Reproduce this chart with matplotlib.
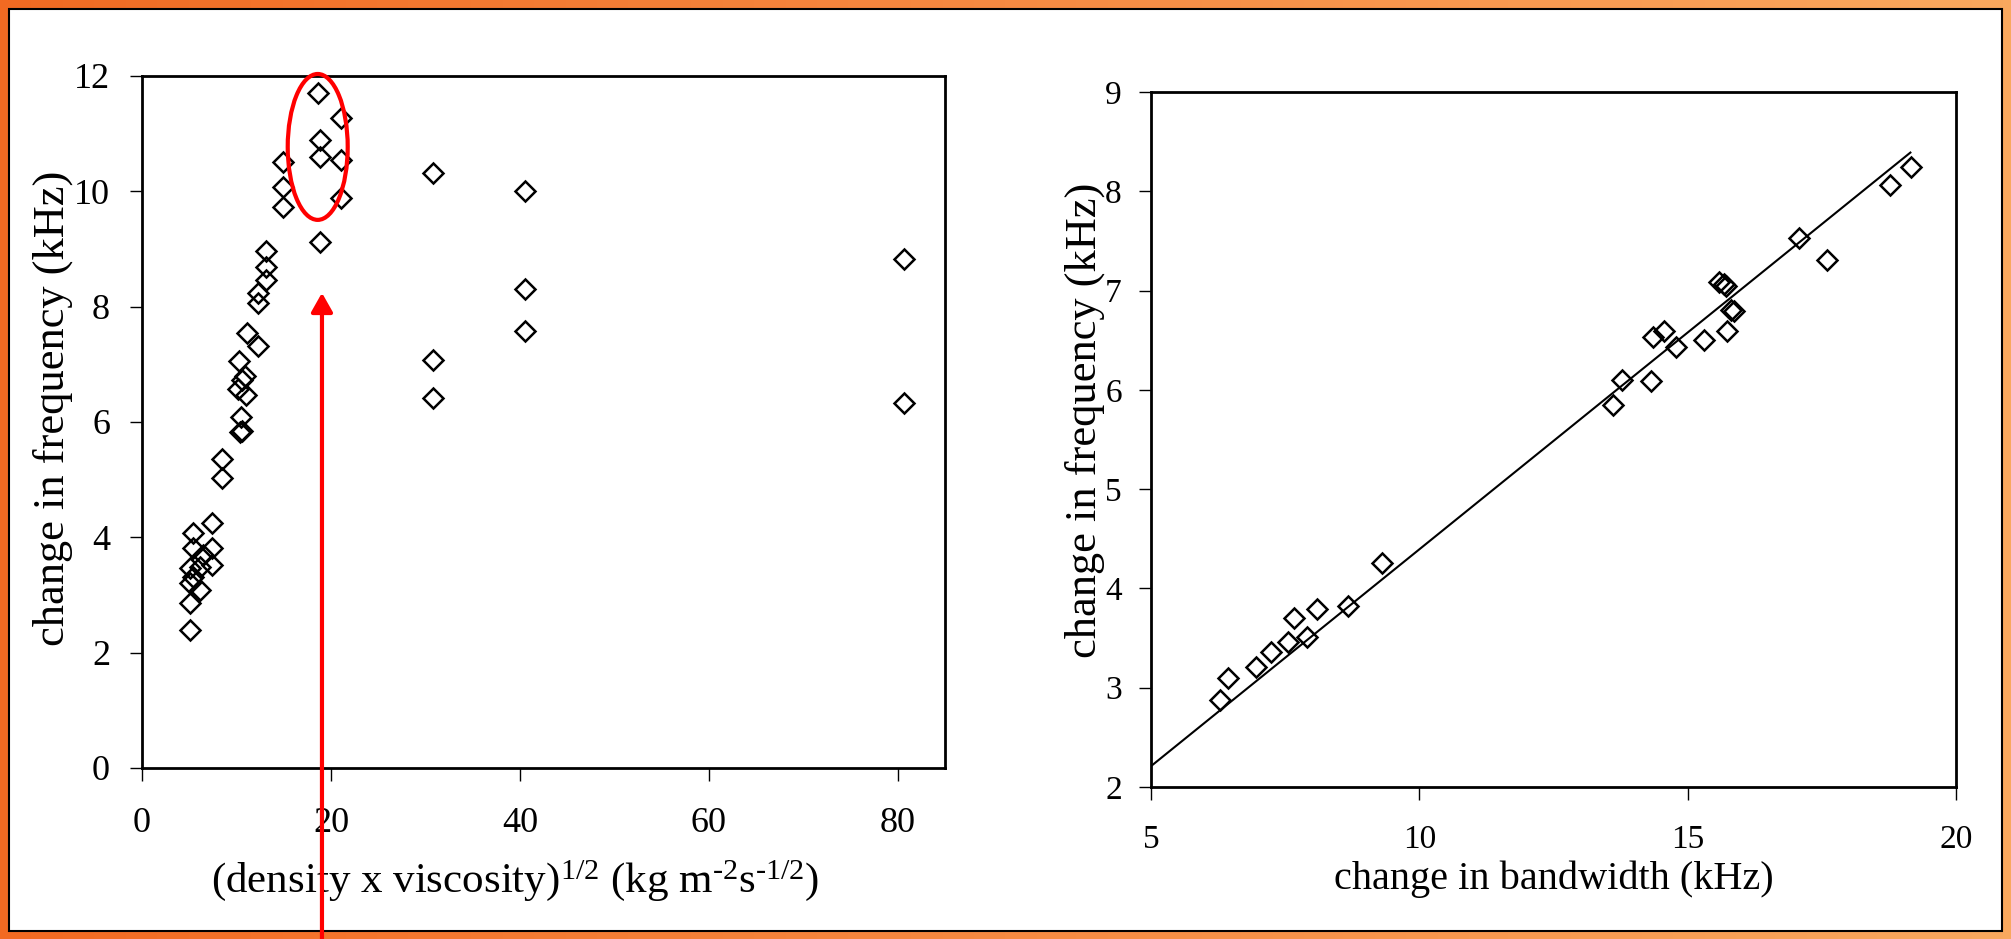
import matplotlib.pyplot as plt
import numpy as np
from matplotlib.patches import Ellipse, Rectangle
from matplotlib.colors import LinearSegmentedColormap
from matplotlib.transforms import blended_transform_factory

plt.rcParams['font.family'] = ['Liberation Serif', 'DejaVu Serif']
plt.rcParams['mathtext.fontset'] = 'custom'
plt.rcParams['mathtext.rm'] = 'Liberation Serif'
plt.rcParams['mathtext.it'] = 'Liberation Serif:italic'

# left panel: change in frequency vs (density x viscosity)^1/2
rho_eta = [5.08, 5.08, 5.08, 5.08, 5.43, 6.14, 6.14, 5.43, 5.43, 6.5, 7.37, 7.37, 7.37,
           8.43, 8.43, 10.4, 10.6, 10.5, 11.0, 10.2, 10.6, 10.9, 10.3, 11.14, 12.3, 12.3,
           12.3, 13.1, 13.1, 13.1, 14.95, 14.95, 14.95, 18.8, 18.8, 18.8, 18.6, 21.06,
           21.06, 21.06, 30.76, 30.76, 30.76, 40.5, 40.5, 40.5, 80.7, 80.7]
freq_left = [2.39, 2.86, 3.21, 3.46, 3.32, 3.09, 3.49, 3.81, 4.07, 3.69, 3.52, 3.81, 4.25,
             5.03, 5.35, 5.83, 5.85, 6.09, 6.47, 6.57, 6.72, 6.80, 7.05, 7.54, 7.31, 8.06,
             8.23, 8.46, 8.69, 8.96, 9.73, 10.08, 10.51, 9.12, 10.60, 10.89, 11.70, 9.89,
             10.54, 11.27, 6.42, 7.08, 10.31, 7.57, 8.30, 10.0, 6.33, 8.82]

# right panel: change in frequency vs change in bandwidth
bandwidth = [6.29, 6.44, 6.96, 7.23, 7.55, 7.67, 7.90, 8.09, 8.67, 9.30, 13.61, 13.78,
             14.31, 14.35, 14.56, 14.79, 15.30, 15.74, 15.80, 15.86, 15.58, 15.68, 15.72,
             17.08, 17.59, 18.77, 19.16]
freq_right = [2.88, 3.10, 3.21, 3.36, 3.46, 3.70, 3.51, 3.79, 3.82, 4.26, 5.85, 6.10,
              6.09, 6.53, 6.59, 6.43, 6.50, 6.59, 6.80, 6.79, 7.09, 7.07, 7.05, 7.53,
              7.31, 8.06, 8.24]
fit_x = [5.0, 19.15]
fit_y = [2.21, 8.39]

W, H = 2011, 939
fig = plt.figure(figsize=(W / 100, H / 100), dpi=100)

# orange frame with white inner panel
bg = fig.add_axes([0, 0, 1, 1], zorder=-10)
grad = np.linspace(0, 1, 256).reshape(1, -1)
cmap = LinearSegmentedColormap.from_list('frame', ['#F26A22', '#F68A42', '#F9A85E'])
bg.imshow(grad, aspect='auto', cmap=cmap, extent=[0, W, 0, H])
bg.add_patch(Rectangle((9, 8), W - 18, H - 17, facecolor='white', edgecolor='black', lw=1.5))
bg.set_xlim(0, W)
bg.set_ylim(0, H)
bg.axis('off')


def style(ax, tick_size):
    for s in ax.spines.values():
        s.set_linewidth(2)
        s.set_color('black')
    ax.tick_params(direction='out', length=9, width=1, colors='black',
                   labelsize=tick_size, top=False, right=False)


mk = dict(linestyle='none', marker='D', markersize=10, markerfacecolor='none',
          markeredgecolor='black', markeredgewidth=1.8)

ax1 = fig.add_axes([142 / W, 1 - 768 / H, (945 - 142) / W, (768 - 76) / H])
ax1.plot(rho_eta, freq_left, **mk)
ax1.set_xlim(0, 85)
ax1.set_ylim(0, 12)
ax1.set_xticks([0, 20, 40, 60, 80])
ax1.set_yticks([0, 2, 4, 6, 8, 10, 12])
style(ax1, 26)
ax1.tick_params(axis='x', pad=19)
ax1.tick_params(axis='y', pad=14)
ax1.set_ylabel('change in frequency (kHz)', fontsize=32, labelpad=1)
ax1.yaxis.label.set_y(0.52)
ax1.set_xlabel('(density x viscosity)$^{\\mathrm{1/2}}$ (kg m$^{\\mathrm{\u20102}}$'
               's$^{\\mathrm{\u20101/2}}$)', fontsize=31, labelpad=13)
ax1.xaxis.label.set_x(0.465)

ax1.add_patch(Ellipse((18.6, 10.77), 6.35, 2.53, fill=False, edgecolor='#FF0000',
                      lw=3, clip_on=False, zorder=5))
ax1.annotate('', xy=(19.05, 8.24), xycoords='data',
             xytext=(19.05, 0.0),
             textcoords=blended_transform_factory(ax1.transData, fig.transFigure),
             arrowprops=dict(arrowstyle='-|>,head_length=1.15,head_width=0.65',
                             color='#FF0000', lw=3, mutation_scale=10,
                             shrinkA=0, shrinkB=0),
             annotation_clip=False, zorder=5)

ax2 = fig.add_axes([1151 / W, 1 - 787 / H, (1956 - 1151) / W, (787 - 92) / H])
ax2.plot(bandwidth, freq_right, **mk)
ax2.plot(fit_x, fit_y, color='black', lw=1.5)
ax2.set_xlim(5, 20)
ax2.set_ylim(2, 9)
ax2.set_xticks([5, 10, 15, 20])
ax2.set_yticks([2, 3, 4, 5, 6, 7, 8, 9])
style(ax2, 24)
ax2.tick_params(axis='x', pad=18)
ax2.tick_params(axis='y', pad=12)
ax2.set_ylabel('change in frequency (kHz)', fontsize=32, labelpad=0)
ax2.yaxis.label.set_y(0.527)
ax2.set_xlabel('change in bandwidth (kHz)', fontsize=29, labelpad=4)

fig.savefig('out.png', dpi=100)
